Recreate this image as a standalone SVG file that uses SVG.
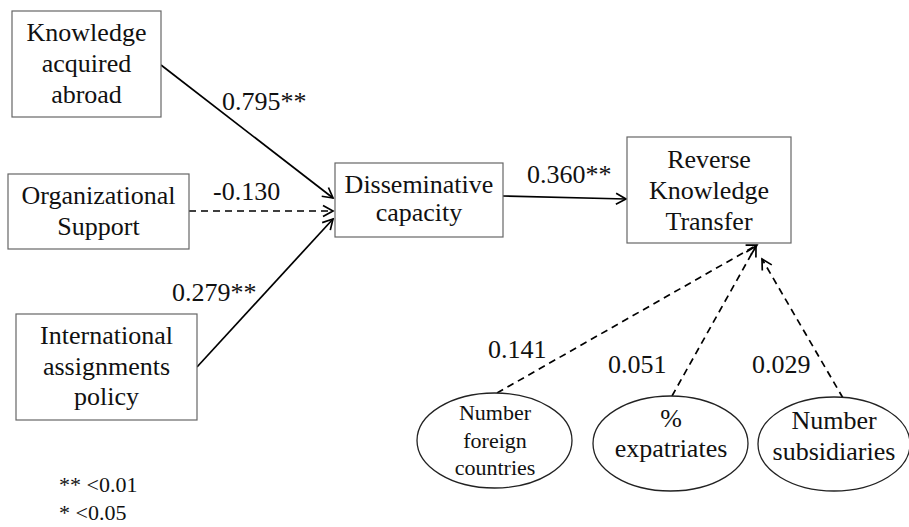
<svg xmlns="http://www.w3.org/2000/svg" width="909" height="527" viewBox="0 0 909 527">
<style>
.box{fill:#fff;stroke:#666;stroke-width:1.2}
.ell{fill:#fff;stroke:#222;stroke-width:1.3}
text{font-family:'Liberation Serif','Times New Roman',serif;fill:#111}
.t{font-size:26px;text-anchor:middle}
.s{font-size:22px}
.lab{font-size:26px}
.leg{font-size:22px}
.e{fill:none;stroke:#000;stroke-width:1.7}
.d{stroke-dasharray:7,5}
</style>
<defs>
<marker id="arr" markerUnits="userSpaceOnUse" markerWidth="14" markerHeight="14" refX="12" refY="7" orient="auto">
<path d="M2,1.5 L12,7 L2,12.5" fill="none" stroke="#000" stroke-width="1.7"/>
</marker>
</defs>
<g id="connectors">
<line class="e" x1="161" y1="65" x2="333" y2="198" marker-end="url(#arr)"/>
<line class="e d" x1="189" y1="211" x2="333" y2="211" marker-end="url(#arr)"/>
<line class="e" x1="197" y1="367" x2="333" y2="219" marker-end="url(#arr)"/>
<line class="e" x1="503" y1="196" x2="626" y2="199" marker-end="url(#arr)"/>
<line class="e d" x1="497" y1="393" x2="757" y2="245" marker-end="url(#arr)"/>
<line class="e d" x1="672" y1="396" x2="756" y2="246" marker-end="url(#arr)"/>
<line class="e d" x1="843" y1="398" x2="762" y2="259" marker-end="url(#arr)"/>
<text class="lab" x="222" y="110">0.795**</text>
<text class="lab" x="213" y="200">-0.130</text>
<text class="lab" x="172" y="301">0.279**</text>
<text class="lab" x="527" y="183">0.360**</text>
<text class="lab" x="488" y="358">0.141</text>
<text class="lab" x="608" y="373">0.051</text>
<text class="lab" x="752" y="373">0.029</text>
</g>
<g id="knowledge-acquired-abroad">
<rect class="box" x="12" y="11" width="149" height="106"/>
<text class="t" x="86.5" y="41">Knowledge</text>
<text class="t" x="86.5" y="72">acquired</text>
<text class="t" x="86.5" y="103">abroad</text>
</g>
<g id="organizational-support">
<rect class="box" x="8" y="174" width="181" height="75"/>
<text class="t" x="98.5" y="204">Organizational</text>
<text class="t" x="98.5" y="235">Support</text>
</g>
<g id="international-assignments-policy">
<rect class="box" x="16" y="314" width="181" height="106"/>
<text class="t" x="106.5" y="344">International</text>
<text class="t" x="106.5" y="375">assignments</text>
<text class="t" x="106.5" y="405">policy</text>
</g>
<g id="disseminative-capacity">
<rect class="box" x="335" y="163" width="168" height="74"/>
<text class="t" x="419" y="193">Disseminative</text>
<text class="t" x="419" y="221">capacity</text>
</g>
<g id="reverse-knowledge-transfer">
<rect class="box" x="627" y="137" width="164" height="106"/>
<text class="t" x="709" y="168">Reverse</text>
<text class="t" x="709" y="199">Knowledge</text>
<text class="t" x="709" y="230">Transfer</text>
</g>
<g id="number-foreign-countries">
<ellipse class="ell" cx="494.5" cy="440.5" rx="77.5" ry="47.5"/>
<text class="t s" x="495" y="420">Number</text>
<text class="t s" x="495" y="448">foreign</text>
<text class="t s" x="495" y="475">countries</text>
</g>
<g id="pct-expatriates">
<ellipse class="ell" cx="670.5" cy="443.5" rx="77.5" ry="47.5"/>
<text class="t" x="671" y="427">%</text>
<text class="t" x="671" y="457">expatriates</text>
</g>
<g id="number-subsidiaries">
<ellipse class="ell" cx="834" cy="444" rx="76" ry="47"/>
<text class="t" x="834" y="429">Number</text>
<text class="t" x="834" y="460">subsidiaries</text>
</g>
<g id="legend">
<text class="leg" x="59" y="492">** &lt;0.01</text>
<text class="leg" x="59" y="520">* &lt;0.05</text>
</g>
</svg>
